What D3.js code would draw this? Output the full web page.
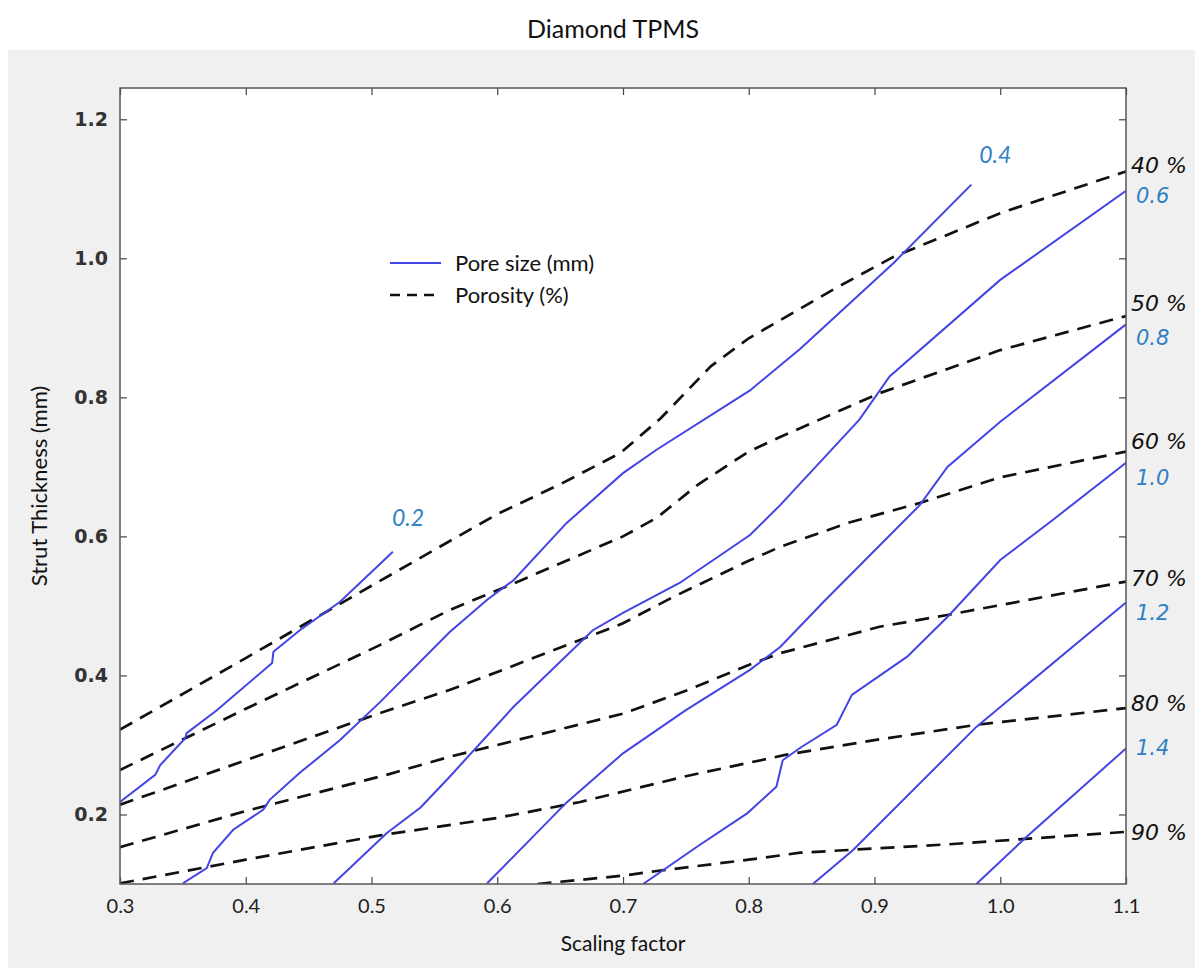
<!DOCTYPE html>
<html><head><meta charset="utf-8">
<script src="https://cdn.jsdelivr.net/npm/d3@7"></script>
<style>body{margin:0;background:#fff}</style></head>
<body>
<svg id="chart" width="1202" height="971"></svg>
<script>
// ---------- data ----------
const title = "Diamond TPMS";
const xLabel = "Scaling factor";
const yLabel = "Strut Thickness (mm)";
const xTicks = [0.3, 0.4, 0.5, 0.6, 0.7, 0.8, 0.9, 1.0, 1.1];
const yTicks = [0.2, 0.4, 0.6, 0.8, 1.0, 1.2];

// porosity iso-lines (scaling factor, strut thickness)
const por40 = [[0.30,0.322],[0.40,0.425],[0.50,0.529],[0.562,0.593],[0.60,0.632],[0.65,0.675],[0.698,0.720],[0.73,0.770],[0.77,0.845],[0.80,0.885],[0.825,0.911],[0.87,0.958],[0.915,1.002],[1.0,1.065],[1.1,1.125]];
const por50 = [[0.30,0.264],[0.40,0.352],[0.507,0.444],[0.562,0.494],[0.61,0.530],[0.70,0.600],[0.727,0.627],[0.76,0.675],[0.80,0.722],[0.825,0.743],[0.904,0.806],[1.0,0.868],[1.1,0.917]];
const por60 = [[0.30,0.214],[0.40,0.278],[0.507,0.346],[0.562,0.379],[0.60,0.405],[0.70,0.475],[0.74,0.513],[0.80,0.565],[0.825,0.585],[0.88,0.620],[0.936,0.648],[1.0,0.685],[1.1,0.722]];
const por70 = [[0.30,0.153],[0.40,0.205],[0.512,0.257],[0.562,0.283],[0.60,0.300],[0.70,0.345],[0.75,0.378],[0.80,0.415],[0.825,0.432],[0.904,0.470],[0.958,0.487],[1.1,0.535]];
const por80 = [[0.30,0.101],[0.40,0.135],[0.507,0.170],[0.60,0.195],[0.666,0.218],[0.75,0.255],[0.83,0.286],[0.90,0.307],[0.981,0.329],[1.1,0.353]];
const por90 = [[0.632,0.100],[0.70,0.112],[0.724,0.118],[0.80,0.135],[0.841,0.145],[0.958,0.157],[1.1,0.175]];
const porosityLabels = ["40 %","50 %","60 %","70 %","80 %","90 %"];
const porosityLabelY = [1.134, 0.936, 0.737, 0.540, 0.360, 0.175];

// pore-size iso-lines
const pore02 = [[0.30,0.218],[0.328,0.257],[0.332,0.271],[0.352,0.310],[0.353,0.317],[0.377,0.350],[0.421,0.418],[0.422,0.434],[0.443,0.465],[0.475,0.506],[0.517,0.578]];
const pore04 = [[0.350,0.101],[0.369,0.123],[0.374,0.145],[0.390,0.178],[0.414,0.207],[0.419,0.221],[0.443,0.260],[0.475,0.307],[0.507,0.362],[0.562,0.462],[0.592,0.509],[0.613,0.537],[0.655,0.619],[0.700,0.691],[0.727,0.725],[0.801,0.810],[0.841,0.870],[0.915,0.993],[0.977,1.106]];
const pore06 = [[0.470,0.101],[0.512,0.173],[0.539,0.210],[0.562,0.254],[0.613,0.355],[0.676,0.465],[0.700,0.490],[0.745,0.533],[0.801,0.602],[0.825,0.645],[0.888,0.768],[0.912,0.830],[1.0,0.969],[1.1,1.097]];
const pore08 = [[0.592,0.101],[0.655,0.217],[0.700,0.288],[0.750,0.350],[0.801,0.408],[0.825,0.441],[0.859,0.505],[0.936,0.645],[0.958,0.700],[1.0,0.765],[1.1,0.905]];
const pore10 = [[0.716,0.100],[0.760,0.155],[0.799,0.202],[0.822,0.240],[0.827,0.278],[0.841,0.296],[0.870,0.329],[0.882,0.372],[0.926,0.427],[0.958,0.484],[1.0,0.566],[1.042,0.624],[1.1,0.706]];
const pore12 = [[0.851,0.100],[0.883,0.149],[0.981,0.326],[1.1,0.505]];
const pore14 = [[0.981,0.100],[1.021,0.168],[1.1,0.295]];
const poreLabels = ["0.2","0.4","0.6","0.8","1.0","1.2","1.4"];
const poreLabelPos = [[0.529,0.627],[0.996,1.149],[null,1.091],[null,0.887],[null,0.686],[null,0.491],[null,0.297]];

const legendItems = ["Pore size (mm)", "Porosity (%)"];

// ---------- drawing ----------
const svg = d3.select("#chart");
const L = 120, R = 1126, T = 88, B = 884;
const x = d3.scaleLinear().domain([0.3, 1.1]).range([L, R]);
const y = d3.scaleLinear().domain([0.1, 1.245]).range([B, T]);

const blue = "#4444e4", labelBlue = "#2f80c4";

svg.append("rect").attr("x",8).attr("y",50).attr("width",1187).attr("height",918).attr("fill","#f0f0f0");
svg.append("rect").attr("x",L).attr("y",T).attr("width",R-L).attr("height",B-T).attr("fill","#fff");

svg.append("text").attr("x",613).attr("y",38).attr("text-anchor","middle")
  .attr("font-family","Lato, 'Open Sans', sans-serif").attr("font-size",25).attr("fill","#111").text(title);

svg.append("defs").append("clipPath").attr("id","clip")
  .append("rect").attr("x",L).attr("y",T).attr("width",R-L).attr("height",B-T);

const line = d3.line().x(d => x(d[0])).y(d => y(d[1]));
const g = svg.append("g").attr("clip-path","url(#clip)");

const porosity = [por40, por50, por60, por70, por80, por90];
const pores = [pore02, pore04, pore06, pore08, pore10, pore12, pore14];

g.selectAll(".por").data(porosity).join("path").attr("class","por")
  .attr("d", line).attr("fill","none").attr("stroke","#111")
  .attr("stroke-width",2.7).attr("stroke-dasharray","14,9");
g.selectAll(".pore").data(pores).join("path").attr("class","pore")
  .attr("d", line).attr("fill","none").attr("stroke",blue).attr("stroke-width",2);

// axes (ticks inward on all sides)
const tickLen = 7;
const axB = svg.append("g").attr("transform",`translate(0,${B})`)
  .call(d3.axisBottom(x).tickValues(xTicks).tickFormat(d3.format(".1f")).tickSizeInner(-tickLen).tickSizeOuter(0).tickPadding(15));
const axT = svg.append("g").attr("transform",`translate(0,${T})`)
  .call(d3.axisTop(x).tickValues(xTicks).tickFormat("").tickSizeInner(-tickLen).tickSizeOuter(0));
const axL = svg.append("g").attr("transform",`translate(${L},0)`)
  .call(d3.axisLeft(y).tickValues(yTicks).tickFormat(d3.format(".1f")).tickSizeInner(-tickLen).tickSizeOuter(0).tickPadding(12));
const axR = svg.append("g").attr("transform",`translate(${R},0)`)
  .call(d3.axisRight(y).tickValues(yTicks).tickFormat("").tickSizeInner(-tickLen).tickSizeOuter(0));
[axB, axT, axL, axR].forEach(a => {
  a.select(".domain").remove();
  a.selectAll(".tick line").attr("stroke","#444").attr("stroke-width",1.2);
});
axB.selectAll(".tick text").attr("font-family","Lato, sans-serif").attr("font-size",20).attr("fill","#222");
axL.selectAll(".tick text").attr("font-family","'DejaVu Sans', Verdana, sans-serif").attr("font-size",19).attr("font-weight","bold").attr("fill","#333");

svg.append("rect").attr("x",L).attr("y",T).attr("width",R-L).attr("height",B-T)
  .attr("fill","none").attr("stroke","#555").attr("stroke-width",1.5);

svg.append("text").attr("x",(L+R)/2).attr("y",951).attr("text-anchor","middle")
  .attr("font-family","Lato, sans-serif").attr("font-size",21).attr("fill","#111").text(xLabel);
svg.append("text").attr("transform",`translate(47,${(T+B)/2}) rotate(-90)`).attr("text-anchor","middle")
  .attr("font-family","Lato, sans-serif").attr("font-size",22).attr("fill","#111").text(yLabel);

// contour labels
svg.selectAll(".plab").data(porosityLabels).join("text").attr("class","plab")
  .attr("x", R + 5).attr("y", (d,i) => y(porosityLabelY[i]) + 8)
  .attr("font-family","'DejaVu Sans', Verdana, sans-serif").attr("font-style","italic")
  .attr("font-size",22).attr("fill","#111").text(d => d);
svg.selectAll(".blab").data(poreLabels).join("text").attr("class","blab")
  .attr("x", (d,i) => poreLabelPos[i][0] === null ? R + 10 : x(poreLabelPos[i][0]))
  .attr("y", (d,i) => y(poreLabelPos[i][1]) + 8)
  .attr("text-anchor", (d,i) => poreLabelPos[i][0] === null ? "start" : "middle")
  .attr("font-family", (d,i) => poreLabelPos[i][0] === null ? "'DejaVu Sans', Verdana, sans-serif" : "Lato, sans-serif")
  .attr("font-style","italic")
  .attr("font-size", (d,i) => poreLabelPos[i][0] === null ? 21 : 23)
  .attr("fill", labelBlue).text(d => d);

// legend
const lg = svg.append("g").attr("transform","translate(390,263)");
lg.append("line").attr("x1",0).attr("x2",51).attr("y1",0).attr("y2",0).attr("stroke",blue).attr("stroke-width",2.2);
lg.append("line").attr("x1",0).attr("x2",51).attr("y1",32).attr("y2",32).attr("stroke","#111").attr("stroke-width",2.4).attr("stroke-dasharray","10,7");
lg.selectAll("text").data(legendItems).join("text")
  .attr("x",65).attr("y",(d,i) => i*32 + 8)
  .attr("font-family","Lato, sans-serif").attr("font-size",22).attr("fill","#111").text(d => d);
</script>
</body></html>
